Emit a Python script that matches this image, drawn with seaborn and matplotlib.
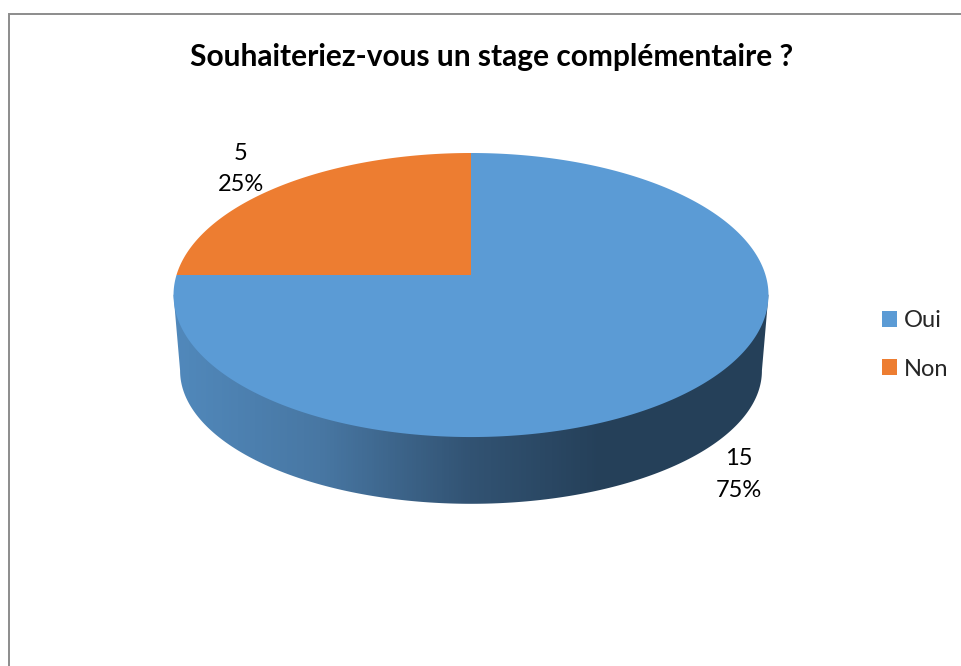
import numpy as np
import matplotlib
matplotlib.use("Agg")
import matplotlib.pyplot as plt
from matplotlib.colors import LinearSegmentedColormap
from matplotlib.patches import Patch, Polygon
import seaborn as sns

# Data
title = "Souhaiteriez-vous un stage complémentaire ?"
categories = ["Oui", "Non"]
counts = [15, 5]
percents = ["75%", "25%"]
colors = ["#5B9BD5", "#ED7D31"]

sns.set_theme(style="white")
plt.rcParams["font.family"] = ["Lato", "DejaVu Sans"]

fig = plt.figure(figsize=(9.61, 6.66), dpi=100)
ax = fig.add_axes([0, 0, 1, 1])
ax.set_xlim(0, 961)
ax.set_ylim(666, 0)
ax.axis("off")

# Perspective disc, fraction 0 is at the top and goes clockwise
k = 0.141


def disc(frac, cx, cy, a, b):
    u = np.sin(2 * np.pi * frac)
    v = np.cos(2 * np.pi * frac)
    return cx + a * u / (1 + k * v), cy - b * v / (1 + k * v)


frac = np.linspace(0, 1, 721)
top_x, top_y = disc(frac, 471, 275, 294.5, 139.2)
low_x, low_y = disc(frac, 471, 352, 288, 130.4)

# Side wall: right edge of top, down, along the bottom, up to left edge of top
i_r, i_l = np.argmax(top_x), np.argmin(top_x)
j_r, j_l = np.argmax(low_x), np.argmin(low_x)
side_x = np.r_[top_x[i_r], low_x[j_r:j_l + 1], top_x[i_l], 471]
side_y = np.r_[top_y[i_r], low_y[j_r:j_l + 1], top_y[i_l], 275]
side = Polygon(np.c_[side_x, side_y], closed=True, fc="none", ec="none")
ax.add_patch(side)

shade = LinearSegmentedColormap.from_list(
    "side", [(0, "#5189BC"), (0.25, "#4877A3"), (0.5, "#325373"), (0.72, "#254059"), (1, "#254059")]
)
img = ax.imshow(
    np.linspace(0, 1, 600).reshape(1, -1),
    cmap=shade,
    extent=[170, 770, 510, 270],
    aspect="auto",
    zorder=1,
)
img.set_clip_path(side)
ax.set_xlim(0, 961)
ax.set_ylim(666, 0)

# Top face, one wedge per category
shares = np.array(counts) / sum(counts)
edges = np.r_[0, np.cumsum(shares)]
for start, end, color in zip(edges[:-1], edges[1:], colors):
    f = np.linspace(start, end, 400)
    x, y = disc(f, 471, 275, 294.5, 139.2)
    ax.fill(np.r_[471, x], np.r_[275, y], color=color, lw=0, zorder=2)

# Data labels
ax.text(739, 474.5, f"{counts[0]}\n{percents[0]}", ha="center", va="center", fontsize=17, color="black", linespacing=1.63, zorder=3)
ax.text(241, 169, f"{counts[1]}\n{percents[1]}", ha="center", va="center", fontsize=17, color="black", linespacing=1.63, zorder=3)

ax.text(492, 57, title, ha="center", va="center", fontsize=21.5, fontweight="bold", color="black")

# Legend
handles = [Patch(fc=c, ec="none", label=n) for c, n in zip(colors, categories)]
ax.legend(
    handles=handles,
    loc="center left",
    bbox_to_anchor=(882 / 961, 1 - 345 / 666),
    frameon=False,
    fontsize=17,
    handlelength=0.64,
    handleheight=0.64,
    handletextpad=0.3,
    labelspacing=1.15,
    borderpad=0,
    borderaxespad=0,
)

# Chart frame, only top and left are inside the crop
ax.plot([8.5, 8.5, 961], [666, 13.5, 13.5], color="#8C8C8C", lw=1.4, solid_joinstyle="miter", zorder=0)

fig.savefig("out.png", dpi=100)
